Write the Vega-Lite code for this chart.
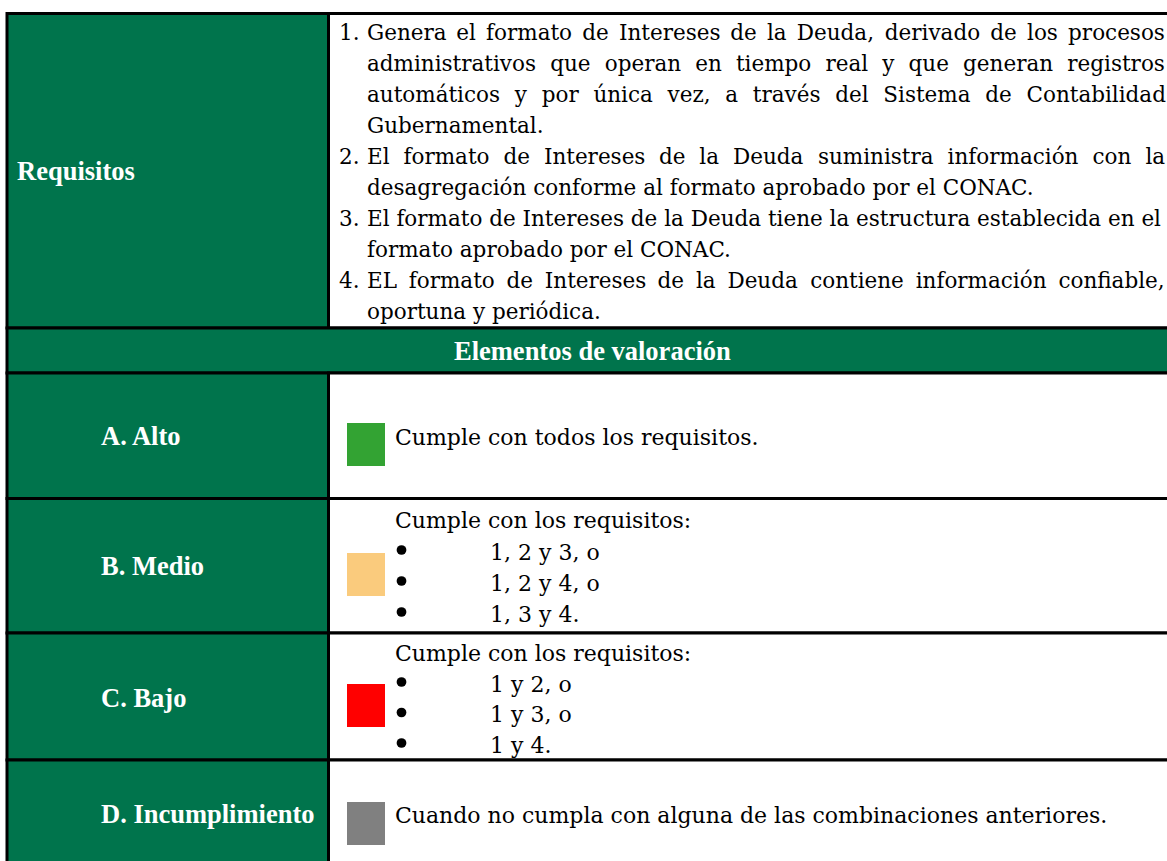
{
  "$schema": "https://vega.github.io/schema/vega-lite/v6.json",
  "width": 1167,
  "height": 861,
  "padding": 0,
  "autosize": {"type": "none"},
  "background": "white",
  "config": {"view": {"stroke": null}},
  "datasets": {
    "cells": [
      {"section": "Requisitos", "kind": "label", "x0": 7, "x1": 328.5, "y0": 13.5, "y1": 328},
      {"section": "Requisitos", "kind": "content", "x0": 328.5, "x1": 1190, "y0": 13.5, "y1": 328},
      {"section": "Elementos de valoración", "kind": "label", "x0": 7, "x1": 1190, "y0": 328, "y1": 373},
      {"section": "A. Alto", "kind": "label", "x0": 7, "x1": 328.5, "y0": 373, "y1": 498.5},
      {"section": "A. Alto", "kind": "content", "x0": 328.5, "x1": 1190, "y0": 373, "y1": 498.5},
      {"section": "B. Medio", "kind": "label", "x0": 7, "x1": 328.5, "y0": 498.5, "y1": 633},
      {"section": "B. Medio", "kind": "content", "x0": 328.5, "x1": 1190, "y0": 498.5, "y1": 633},
      {"section": "C. Bajo", "kind": "label", "x0": 7, "x1": 328.5, "y0": 633, "y1": 760},
      {"section": "C. Bajo", "kind": "content", "x0": 328.5, "x1": 1190, "y0": 633, "y1": 760},
      {"section": "D. Incumplimiento", "kind": "label", "x0": 7, "x1": 328.5, "y0": 760, "y1": 890},
      {"section": "D. Incumplimiento", "kind": "content", "x0": 328.5, "x1": 1190, "y0": 760, "y1": 890}
    ],
    "swatches": [
      {"level": "Alto", "x0": 347, "x1": 385, "y0": 423, "y1": 466},
      {"level": "Medio", "x0": 347, "x1": 385, "y0": 553, "y1": 596},
      {"level": "Bajo", "x0": 347, "x1": 385, "y0": 684, "y1": 727},
      {"level": "Incumplimiento", "x0": 347, "x1": 385, "y0": 802, "y1": 845}
    ],
    "labels": [
      {"text": "Requisitos", "x": 17, "y": 180},
      {"text": "Elementos de valoración", "x": 454, "y": 360},
      {"text": "A. Alto", "x": 101, "y": 445},
      {"text": "B. Medio", "x": 101, "y": 575},
      {"text": "C. Bajo", "x": 101, "y": 707},
      {"text": "D. Incumplimiento", "x": 101, "y": 823}
    ],
    "requisitos": [
      {"text": "1.", "x": 339, "y": 40},
      {"text": "Genera", "x": 367, "y": 40},
      {"text": "el", "x": 456.3, "y": 40},
      {"text": "formato", "x": 486.1, "y": 40},
      {"text": "de", "x": 582.3, "y": 40},
      {"text": "Intereses", "x": 619.0, "y": 40},
      {"text": "de", "x": 730.2, "y": 40},
      {"text": "la", "x": 766.9, "y": 40},
      {"text": "Deuda,", "x": 796.8, "y": 40},
      {"text": "derivado", "x": 884.8, "y": 40},
      {"text": "de", "x": 990.3, "y": 40},
      {"text": "los", "x": 1027.0, "y": 40},
      {"text": "procesos", "x": 1068.1, "y": 40},
      {"text": "administrativos", "x": 367, "y": 71},
      {"text": "que", "x": 550.2, "y": 71},
      {"text": "operan", "x": 604.7, "y": 71},
      {"text": "en", "x": 695.2, "y": 71},
      {"text": "tiempo", "x": 735.9, "y": 71},
      {"text": "real", "x": 825.5, "y": 71},
      {"text": "y", "x": 882.3, "y": 71},
      {"text": "que", "x": 908.6, "y": 71},
      {"text": "generan", "x": 963.1, "y": 71},
      {"text": "registros", "x": 1067.3, "y": 71},
      {"text": "automáticos", "x": 367, "y": 102},
      {"text": "y", "x": 514.8, "y": 102},
      {"text": "por", "x": 541.7, "y": 102},
      {"text": "única", "x": 593.4, "y": 102},
      {"text": "vez,", "x": 667.6, "y": 102},
      {"text": "a", "x": 725.3, "y": 102},
      {"text": "través", "x": 752.8, "y": 102},
      {"text": "del", "x": 835.2, "y": 102},
      {"text": "Sistema", "x": 883.3, "y": 102},
      {"text": "de", "x": 985.3, "y": 102},
      {"text": "Contabilidad", "x": 1026.5, "y": 102},
      {"text": "Gubernamental.", "x": 367, "y": 133},
      {"text": "2.", "x": 339, "y": 164},
      {"text": "El", "x": 367, "y": 164},
      {"text": "formato", "x": 403.5, "y": 164},
      {"text": "de", "x": 503.4, "y": 164},
      {"text": "Intereses", "x": 543.9, "y": 164},
      {"text": "de", "x": 658.9, "y": 164},
      {"text": "la", "x": 699.3, "y": 164},
      {"text": "Deuda", "x": 733.0, "y": 164},
      {"text": "suministra", "x": 817.9, "y": 164},
      {"text": "información", "x": 947.6, "y": 164},
      {"text": "con", "x": 1092.5, "y": 164},
      {"text": "la", "x": 1145.4, "y": 164},
      {"text": "desagregación conforme al formato aprobado por el CONAC.", "x": 367, "y": 195},
      {"text": "3.", "x": 339, "y": 226},
      {"text": "El formato de Intereses de la Deuda tiene la estructura establecida en el", "x": 367, "y": 226},
      {"text": "formato aprobado por el CONAC.", "x": 367, "y": 257},
      {"text": "4.", "x": 339, "y": 288},
      {"text": "EL", "x": 367, "y": 288},
      {"text": "formato", "x": 408.8, "y": 288},
      {"text": "de", "x": 506.5, "y": 288},
      {"text": "Intereses", "x": 544.8, "y": 288},
      {"text": "de", "x": 657.6, "y": 288},
      {"text": "la", "x": 695.9, "y": 288},
      {"text": "Deuda", "x": 727.4, "y": 288},
      {"text": "contiene", "x": 810.2, "y": 288},
      {"text": "información", "x": 915.7, "y": 288},
      {"text": "confiable,", "x": 1058.4, "y": 288},
      {"text": "oportuna y periódica.", "x": 367, "y": 319}
    ],
    "evaluation": [
      {"text": "Cumple con todos los requisitos.", "x": 395, "y": 445},
      {"text": "Cumple con los requisitos:", "x": 395, "y": 528},
      {"text": "1, 2 y 3, o", "x": 490, "y": 560},
      {"text": "1, 2 y 4, o", "x": 490, "y": 591},
      {"text": "1, 3 y 4.", "x": 490, "y": 622},
      {"text": "Cumple con los requisitos:", "x": 395, "y": 661},
      {"text": "1 y 2, o", "x": 490, "y": 692},
      {"text": "1 y 3, o", "x": 490, "y": 722},
      {"text": "1 y 4.", "x": 490, "y": 753},
      {"text": "Cuando no cumpla con alguna de las combinaciones anteriores.", "x": 395, "y": 823}
    ],
    "bullets": [
      {"level": "Medio", "item": 1, "x": 401.5, "y": 550},
      {"level": "Medio", "item": 2, "x": 401.5, "y": 581},
      {"level": "Medio", "item": 3, "x": 401.5, "y": 612},
      {"level": "Bajo", "item": 1, "x": 401.5, "y": 682},
      {"level": "Bajo", "item": 2, "x": 401.5, "y": 712.5},
      {"level": "Bajo", "item": 3, "x": 401.5, "y": 743}
    ]
  },
  "layer": [
    {
      "data": {"name": "cells"},
      "mark": {"type": "rect", "stroke": "#000000", "strokeWidth": 3, "clip": true},
      "encoding": {
        "x": {"field": "x0", "type": "quantitative", "scale": {"domain": [0, 1167], "nice": false, "zero": false}, "axis": null},
        "x2": {"field": "x1"},
        "y": {"field": "y0", "type": "quantitative", "scale": {"domain": [0, 861], "nice": false, "zero": false, "reverse": true}, "axis": null},
        "y2": {"field": "y1"},
        "fill": {"field": "kind", "type": "nominal", "scale": {"domain": ["label", "content"], "range": ["#00744C", "#FFFFFF"]}, "legend": null}
      }
    },
    {
      "data": {"name": "swatches"},
      "mark": {"type": "rect"},
      "encoding": {
        "x": {"field": "x0", "type": "quantitative", "axis": null},
        "x2": {"field": "x1"},
        "y": {"field": "y0", "type": "quantitative", "axis": null},
        "y2": {"field": "y1"},
        "color": {"field": "level", "type": "nominal", "scale": {"domain": ["Alto", "Medio", "Bajo", "Incumplimiento"], "range": ["#33A333", "#FACB7D", "#FF0000", "#808080"]}, "legend": null}
      }
    },
    {
      "data": {"name": "labels"},
      "mark": {"type": "text", "font": "Liberation Serif", "fontWeight": "bold", "fontSize": 26.5, "fill": "#FFFFFF", "align": "left", "baseline": "alphabetic"},
      "encoding": {
        "x": {"field": "x", "type": "quantitative", "axis": null},
        "y": {"field": "y", "type": "quantitative", "axis": null},
        "text": {"field": "text"}
      }
    },
    {
      "data": {"name": "requisitos"},
      "mark": {"type": "text", "font": "DejaVu Serif", "fontSize": 21.5, "fill": "#000000", "align": "left", "baseline": "alphabetic"},
      "encoding": {
        "x": {"field": "x", "type": "quantitative", "axis": null},
        "y": {"field": "y", "type": "quantitative", "axis": null},
        "text": {"field": "text"}
      }
    },
    {
      "data": {"name": "evaluation"},
      "mark": {"type": "text", "font": "DejaVu Serif", "fontSize": 22, "fill": "#000000", "align": "left", "baseline": "alphabetic"},
      "encoding": {
        "x": {"field": "x", "type": "quantitative", "axis": null},
        "y": {"field": "y", "type": "quantitative", "axis": null},
        "text": {"field": "text"}
      }
    },
    {
      "data": {"name": "bullets"},
      "mark": {"type": "point", "shape": "circle", "filled": true, "fill": "#000000", "opacity": 1, "size": 95, "strokeWidth": 0},
      "encoding": {
        "x": {"field": "x", "type": "quantitative", "axis": null},
        "y": {"field": "y", "type": "quantitative", "axis": null}
      }
    }
  ]
}
